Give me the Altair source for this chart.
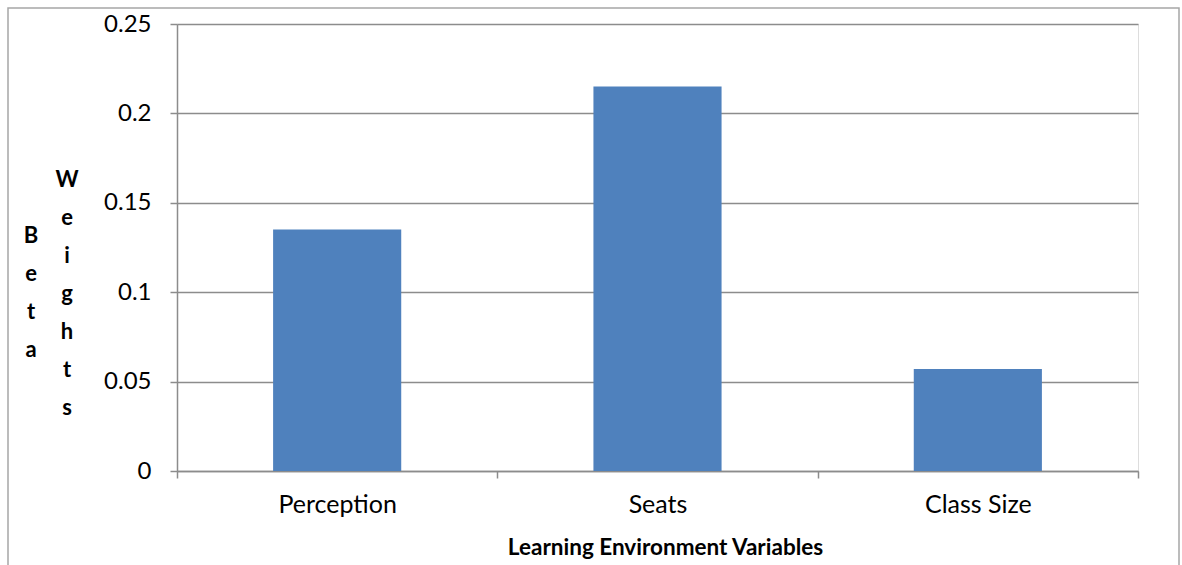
import altair as alt
import pandas as pd

# Standardised regression coefficients per learning-environment variable
variables = ["Perception", "Seats", "Class Size"]
beta_weights = [0.135, 0.215, 0.057]

df = pd.DataFrame({"variable": variables, "beta": beta_weights})

GRAY = "#8c8c8c"
FONT = "Lato"
W, H = 961, 447

bars = alt.Chart(df).mark_bar(
    color="#4f81bd", width=alt.RelativeBandSize(0.4)
).encode(
    x=alt.X(
        "variable:N",
        sort=variables,
        scale=alt.Scale(paddingInner=0, paddingOuter=0),
        axis=alt.Axis(
            title="Learning Environment Variables",
            labelAngle=0,
            labelFontSize=25,
            labelFont=FONT,
            labelColor="black",
            labelPadding=14,
            tickBand="extent",
            tickSize=7,
            tickColor=GRAY,
            tickWidth=1.5,
            domainColor=GRAY,
            domainWidth=1.5,
            titleFont=FONT,
            titleFontSize=22.5,
            titleFontWeight="bold",
            titleColor="black",
            titlePadding=19,
            titleX=488,
            grid=False,
        ),
    ),
    y=alt.Y(
        "beta:Q",
        scale=alt.Scale(domain=[0, 0.25], nice=False),
        axis=alt.Axis(
            title=None,
            values=[0, 0.05, 0.1, 0.15, 0.2, 0.25],
            labelExpr="datum.value == 0 ? '0' : format(datum.value, '.2~f')",
            labelFontSize=24,
            labelFont=FONT,
            labelColor="black",
            labelPadding=19,
            tickSize=7,
            tickColor=GRAY,
            tickWidth=1.5,
            domainColor=GRAY,
            domainWidth=1.5,
            grid=True,
            gridColor=GRAY,
            gridWidth=1.5,
        ),
    ),
)

# Vertically stacked y-axis title, one column per word
title_df = pd.DataFrame({"word": ["B\ne\nt\na", "W\ne\ni\ng\nh\nt\ns"], "xpos": [-146, -110], "ypos": [219, 163]})
ytitle = alt.Chart(title_df).mark_text(
    font=FONT, fontSize=22, fontWeight="bold", lineBreak="\n", lineHeight=38,
    align="center", baseline="alphabetic", color="black",
).encode(
    x=alt.X("xpos:Q", scale=None),
    y=alt.Y("ypos:Q", scale=None),
    text="word:N",
)

# Outer chart frame
frame = alt.Chart(pd.DataFrame({"k": [0]})).mark_rect(
    fill=None, stroke="#a6a6a6", strokeWidth=1.5
).encode(
    x=alt.value(-169), x2=alt.value(1002), y=alt.value(-16), y2=alt.value(620)
)

chart = alt.layer(frame, bars, ytitle).properties(
    width=W,
    height=H,
    autosize=alt.AutoSizeParams(type="none"),
    padding={"left": 177, "top": 24, "right": 44, "bottom": 94},
).configure_view(stroke=None).configure(background="white")

chart.save("out.html", embed_options={"renderer": "svg", "actions": False})
